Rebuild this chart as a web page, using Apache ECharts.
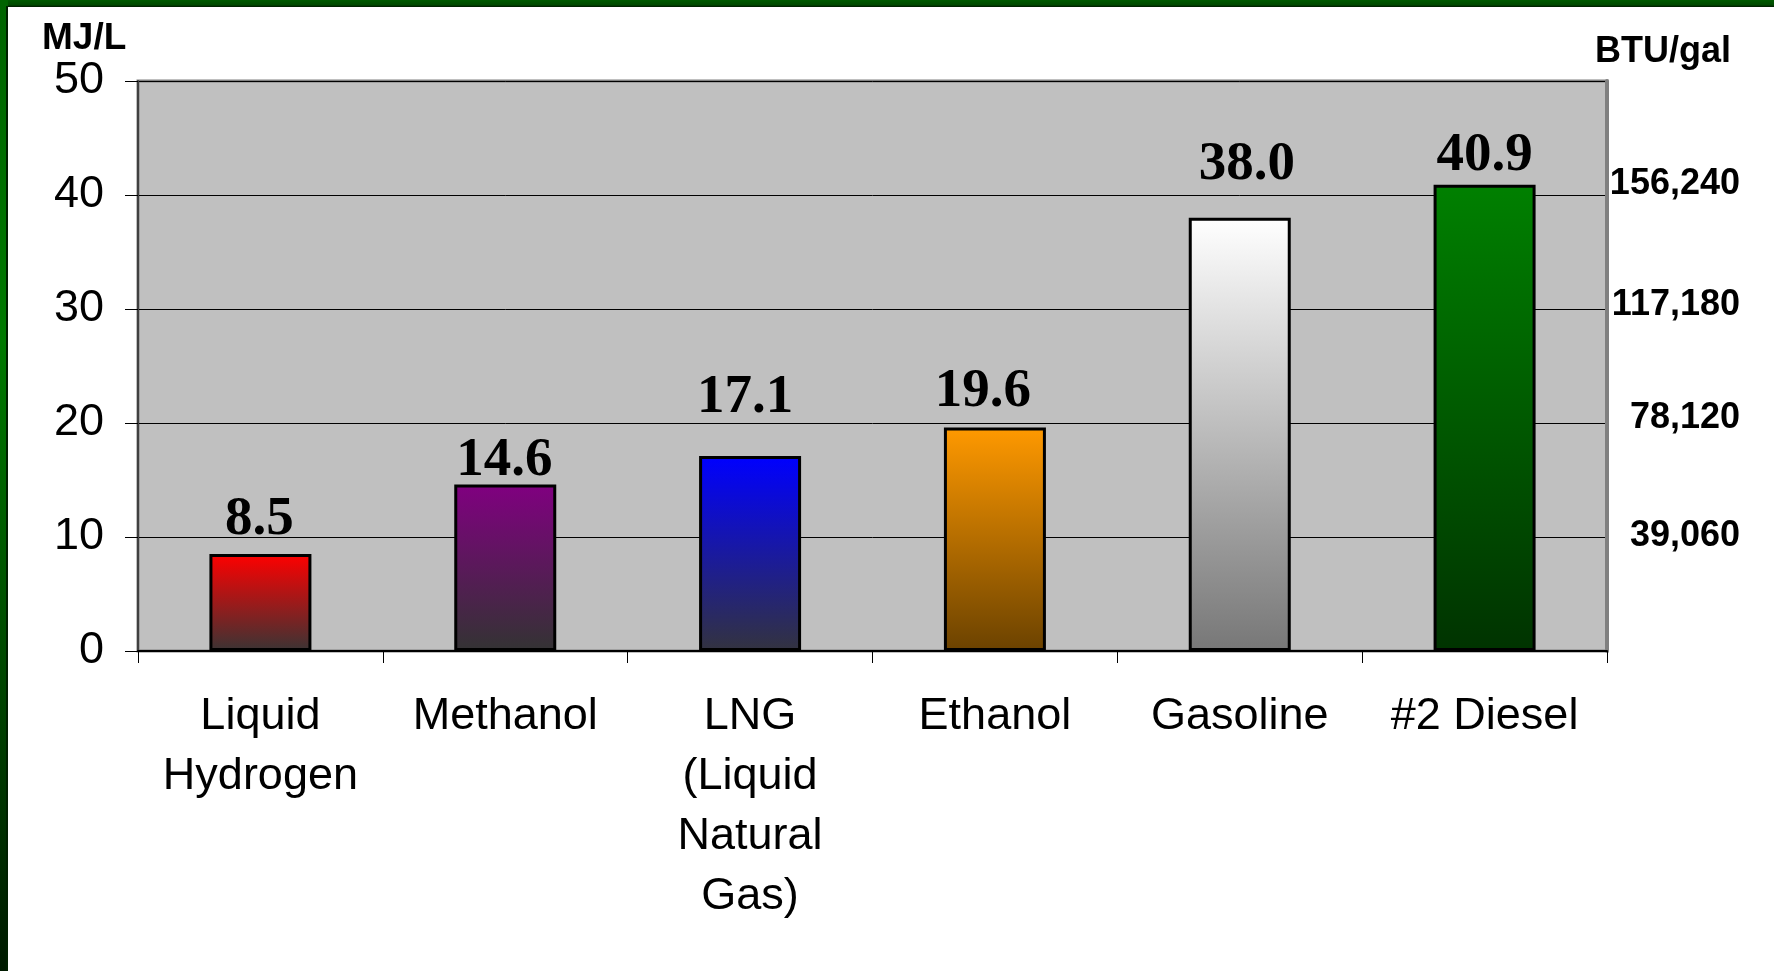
<!DOCTYPE html>
<html><head><meta charset="utf-8">
<script src="https://cdn.jsdelivr.net/npm/echarts@6/dist/echarts.min.js"></script>
<style>html,body{margin:0;padding:0;background:#fff}#c{width:1774px;height:971px}</style>
</head><body><div id="c"></div>
<script>
// ---- data ----
const categories = ['Liquid\nHydrogen', 'Methanol', 'LNG\n(Liquid\nNatural\nGas)', 'Ethanol', 'Gasoline', '#2 Diesel'];
const energyMJperL = [8.5, 14.6, 17.1, 19.6, 38.0, 40.9];
const leftTickValues = [0, 10, 20, 30, 40, 50];
const rightTickLabels = ['', '39,060', '78,120', '117,180', '156,240', ''];
const leftUnit = 'MJ/L';
const rightUnit = 'BTU/gal';

// ---- styles ----
const topColors = ['#ff0000', '#800080', '#0000ff', '#ff9900', '#ffffff', '#008000'];
const bottomColors = ['#3a3434', '#333333', '#33333f', '#6b4200', '#777777', '#003300'];
const labelShift = [[-1, -5], [-1, 6], [-5, -29], [-12, -6], [7, -24], [0, 1]];
// vertical lift (px) of each right-axis label above its gridline
const rightLabelLift = [1, 1, 5, 4, 11, 1];

const sans = '"Liberation Sans", Arial, sans-serif';
const serif = '"Liberation Serif", "Times New Roman", serif';

const chart = echarts.init(document.getElementById('c'), null, { renderer: 'canvas' });

const barData = energyMJperL.map((v, i) => ({
  value: v,
  itemStyle: {
    color: new echarts.graphic.LinearGradient(0, 0, 0, 1, [
      { offset: 0, color: topColors[i] },
      { offset: 1, color: bottomColors[i] }
    ]),
    borderColor: '#000',
    borderWidth: 3
  },
  label: { offset: labelShift[i] }
}));

const rightRich = {};
rightLabelLift.forEach((lift, i) => {
  rightRich['r' + i] = {
    fontFamily: sans, fontSize: 36, fontWeight: 'bold', color: '#000',
    lineHeight: Math.max(2, lift * 2), align: 'right'
  };
});

const option = {
  animation: false,
  backgroundColor: '#ffffff',
  grid: {
    left: 138, right: 167, top: 81, bottom: 320,
    show: true, backgroundColor: '#c0c0c0', borderColor: '#808080', borderWidth: 3,
    containLabel: false
  },
  xAxis: {
    type: 'category',
    data: categories,
    boundaryGap: true,
    axisLine: { show: true, lineStyle: { color: '#000', width: 2 } },
    axisTick: { show: true, length: 12, lineStyle: { color: '#000', width: 1 } },
    axisLabel: {
      interval: 0, margin: 36, color: '#000',
      fontFamily: sans, fontSize: 45, lineHeight: 60
    }
  },
  yAxis: [
    {
      type: 'value', min: 0, max: 50, interval: 10, position: 'left',
      axisLine: { show: true, lineStyle: { color: '#404040', width: 2 } },
      axisTick: { show: true, length: 13, lineStyle: { color: '#000', width: 1 } },
      splitLine: { show: true, lineStyle: { color: '#000', width: 1 } },
      axisLabel: {
        margin: 34, color: '#000', fontFamily: sans, fontSize: 45,
        formatter: v => leftTickValues.includes(v) ? String(v) : ''
      }
    },
    {
      type: 'value', min: 0, max: 50, interval: 10, position: 'right',
      axisLine: { show: true, lineStyle: { color: '#808080', width: 4 } },
      axisTick: { show: false },
      splitLine: { show: false },
      axisLabel: {
        margin: 133, align: 'right', verticalAlign: 'bottom', color: '#000', fontFamily: sans,
        fontSize: 36, fontWeight: 'bold',
        formatter: (v) => {
          const k = Math.round(v / 10);
          const t = rightTickLabels[k];
          return t ? '{r' + k + '|' + t + '}' : '';
        },
        rich: rightRich
      }
    }
  ],
  series: [{
    type: 'bar',
    data: barData,
    barWidth: 102,
    yAxisIndex: 0,
    label: {
      show: true, position: 'top', distance: 2,
      color: '#000', fontFamily: serif, fontSize: 55, fontWeight: 'bold',
      formatter: p => p.value.toFixed(1)
    }
  }],
  graphic: [
    { type: 'text', left: 42, top: 20, style: { text: leftUnit, fill: '#000', font: 'bold 37px ' + sans } },
    { type: 'text', left: 1595, top: 34, style: { text: rightUnit, fill: '#000', font: 'bold 36px ' + sans } },
    {
      type: 'rect', left: 0, top: 0, z: 100,
      shape: { width: 1774, height: 7 },
      style: { fill: new echarts.graphic.LinearGradient(0, 0, 0, 1, [
        { offset: 0, color: '#005a00' }, { offset: 0.7, color: '#004a00' }, { offset: 1, color: '#001800' }]) }
    },
    {
      type: 'rect', left: 0, top: 0, z: 101,
      shape: { width: 8, height: 971 },
      style: { fill: new echarts.graphic.LinearGradient(0, 0, 0, 1, [
        { offset: 0, color: '#006400' }, { offset: 0.35, color: '#007a00' }, { offset: 1, color: '#001a00' }]) }
    },
    {
      type: 'rect', left: 6, top: 6, z: 102,
      shape: { width: 2, height: 965 },
      style: { fill: '#002000' }
    }
  ]
};
chart.setOption(option);
</script>
</body></html>
